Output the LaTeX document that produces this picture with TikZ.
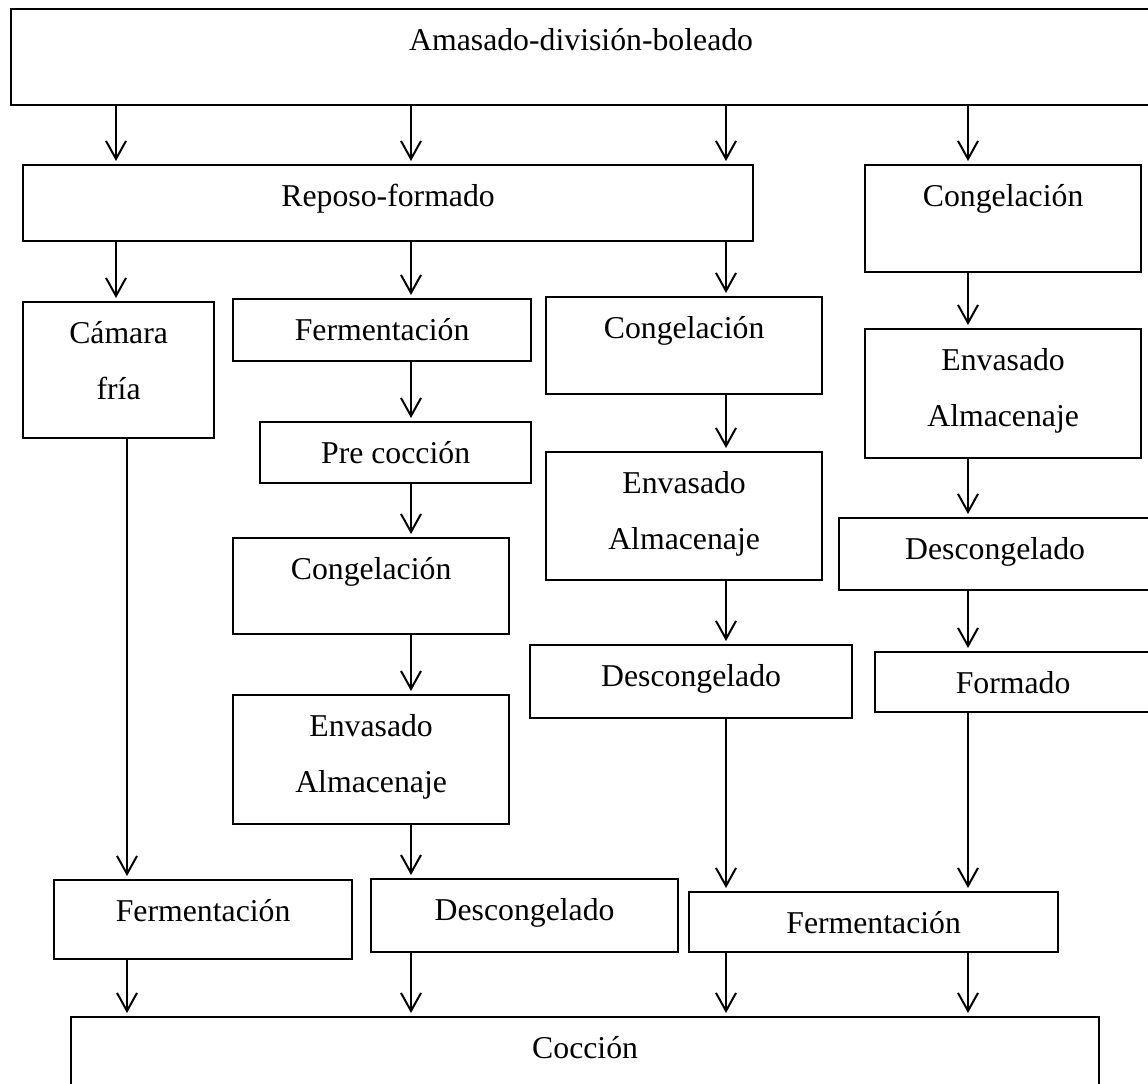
\documentclass[tikz,border=0pt]{standalone}
\usepackage{fontspec}
\setmainfont{Liberation Serif}
\usepackage{tikz}
\usetikzlibrary{arrows.meta}
\tikzset{box style/.style={
		draw=black,
		line width=0.9pt,
		fill=white,
		rectangle,
		anchor=north west,
		inner sep=0pt,
		align=flush center,
		text height=16.4pt,
		font=\fontsize{12.7}{22.4}\selectfont,
	},
	stage style/.style 2 args={
		box style,
		text width=#1,
		text depth=#2,
	},
	flow style/.style={
		line width=0.8pt,
		-{Straight Barb[length=7.2pt,width=8pt]},
		shorten >=1.2pt,
	}
}

\begin{document}
\begin{tikzpicture}[x=0.4pt,y=-0.4pt]
	\useasboundingbox (0,0) rectangle (1148,1084);
	\coordinate (ColA) at (116,0);
	\coordinate (ColAb) at (127,0);
	\coordinate (ColB) at (411,0);
	\coordinate (ColC) at (726,0);
	\coordinate (ColD) at (968,0);

	\node[stage style={456pt}{22pt}] (Amasado) at (10,8) {Amasado-división-boleado};
	\node[stage style={292pt}{14pt}] (Reposo) at (22,164) {Reposo-formado};
	\node[stage style={110.4pt}{26.4pt}] (CongelacionA) at (864,164) {Congelación};

	\node[stage style={76.4pt}{38pt}] (Camara) at (22,301) {Cámara\\fría};
	\node[stage style={119.2pt}{8.4pt}] (FermentacionA) at (232,298) {Fermentación};
	\node[stage style={110.4pt}{22.4pt}] (CongelacionB) at (545,296) {Congelación};
	\node[stage style={110.4pt}{35.2pt}] (EnvasadoA) at (864,328) {Envasado\\Almacenaje};

	\node[stage style={108.4pt}{8pt}] (PreCoccion) at (259,421) {Pre cocción};
	\node[stage style={110.4pt}{34.8pt}] (EnvasadoB) at (545,451) {Envasado\\Almacenaje};
	\node[stage style={124.8pt}{12.4pt}] (DescongeladoA) at (838,517) {Descongelado};
	\node[stage style={110.4pt}{22pt}] (CongelacionC) at (232,537) {Congelación};
	\node[stage style={128.8pt}{12.8pt}] (DescongeladoB) at (529,644) {Descongelado};
	\node[stage style={110.4pt}{7.6pt}] (Formado) at (874,651) {Formado};
	\node[stage style={110.4pt}{35.2pt}] (EnvasadoC) at (232,694) {Envasado\\Almacenaje};

	\node[stage style={119.2pt}{15.2pt}] (FermentacionB) at (53,879) {Fermentación};
	\node[stage style={122.8pt}{12.8pt}] (DescongeladoC) at (370,878) {Descongelado};
	\node[stage style={147.6pt}{7.6pt}] (FermentacionC) at (688,891) {Fermentación};
	\node[stage style={411.2pt}{17.2pt}] (Coccion) at (70,1016) {Cocción};

	\draw[flow style] (Amasado.south -| ColA) -- (Reposo.north -| ColA);
	\draw[flow style] (Amasado.south -| ColB) -- (Reposo.north -| ColB);
	\draw[flow style] (Amasado.south -| ColC) -- (Reposo.north -| ColC);
	\draw[flow style] (Amasado.south -| ColD) -- (CongelacionA.north -| ColD);

	\draw[flow style] (Reposo.south -| ColA) -- (Camara.north -| ColA);
	\draw[flow style] (Reposo.south -| ColB) -- (FermentacionA.north -| ColB);
	\draw[flow style] (Reposo.south -| ColC) -- (CongelacionB.north -| ColC);

	\draw[flow style] (Camara.south -| ColAb) -- (FermentacionB.north -| ColAb);

	\draw[flow style] (FermentacionA.south -| ColB) -- (PreCoccion.north -| ColB);
	\draw[flow style] (PreCoccion.south -| ColB) -- (CongelacionC.north -| ColB);
	\draw[flow style] (CongelacionC.south -| ColB) -- (EnvasadoC.north -| ColB);
	\draw[flow style] (EnvasadoC.south -| ColB) -- (DescongeladoC.north -| ColB);

	\draw[flow style] (CongelacionB.south -| ColC) -- (EnvasadoB.north -| ColC);
	\draw[flow style] (EnvasadoB.south -| ColC) -- (DescongeladoB.north -| ColC);
	\draw[flow style] (DescongeladoB.south -| ColC) -- (FermentacionC.north -| ColC);

	\draw[flow style] (CongelacionA.south -| ColD) -- (EnvasadoA.north -| ColD);
	\draw[flow style] (EnvasadoA.south -| ColD) -- (DescongeladoA.north -| ColD);
	\draw[flow style] (DescongeladoA.south -| ColD) -- (Formado.north -| ColD);
	\draw[flow style] (Formado.south -| ColD) -- (FermentacionC.north -| ColD);

	\draw[flow style] (FermentacionB.south -| ColAb) -- (Coccion.north -| ColAb);
	\draw[flow style] (DescongeladoC.south -| ColB) -- (Coccion.north -| ColB);
	\draw[flow style] (FermentacionC.south -| ColC) -- (Coccion.north -| ColC);
	\draw[flow style] (FermentacionC.south -| ColD) -- (Coccion.north -| ColD);
\end{tikzpicture}
\end{document}
